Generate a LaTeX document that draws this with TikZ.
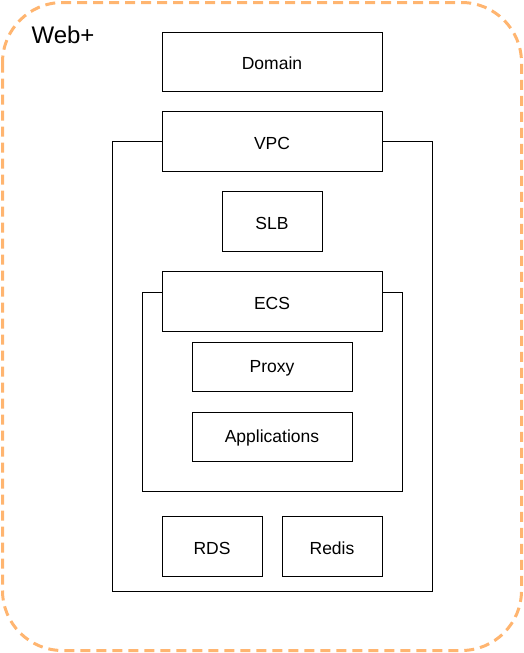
\documentclass[tikz,border=0pt]{standalone}
\usepackage{fontspec}
\setmainfont{Liberation Sans}
\definecolor{dashorange}{HTML}{FFB570}
\tikzset{
  box/.style={draw=black, fill=white, line width=1pt, inner sep=0pt},
  cont/.style={draw=black, line width=1pt},
  lbl/.style={font=\fontsize{17.5}{20}\selectfont},
}
\begin{document}
\begin{tikzpicture}[x=1pt,y=-1pt]
\useasboundingbox (0,0) rectangle (524,653);
% outer dashed group
\draw[dashorange, line width=3pt, dash pattern=on 10pt off 6pt, rounded corners=60pt] (2.5,2.5) rectangle (521.5,650.5);
\node[anchor=base west, font=\fontsize{24}{28}\selectfont] (title) at (28,43) {Web+};
% containers
\draw[cont] (112,141) rectangle (432,591);
\draw[cont] (142,292) rectangle (402,491);
% boxes
\node[box, minimum width=220pt, minimum height=59pt] (domain) at (272,61.5) {};
\node[lbl] at (272,63) {Domain};
\node[box, minimum width=220pt, minimum height=60pt] (vpc) at (272,141) {};
\node[lbl] at (272,143) {VPC};
\node[box, minimum width=100pt, minimum height=60pt] (slb) at (272,221) {};
\node[lbl] at (272,223) {SLB};
\node[box, minimum width=220pt, minimum height=60pt] (ecs) at (272,301) {};
\node[lbl] at (272,303) {ECS};
\node[box, minimum width=160pt, minimum height=49pt] (proxy) at (272,366.5) {};
\node[lbl] at (272,368) {Proxy};
\node[box, minimum width=160pt, minimum height=49pt] (apps) at (272,436.5) {};
\node[lbl] at (272,438) {Applications};
\node[box, minimum width=100pt, minimum height=60pt] (rds) at (212,546) {};
\node[lbl] at (212,548) {RDS};
\node[box, minimum width=100pt, minimum height=60pt] (redis) at (332,546) {};
\node[lbl] at (332,548) {Redis};
\end{tikzpicture}
\end{document}
